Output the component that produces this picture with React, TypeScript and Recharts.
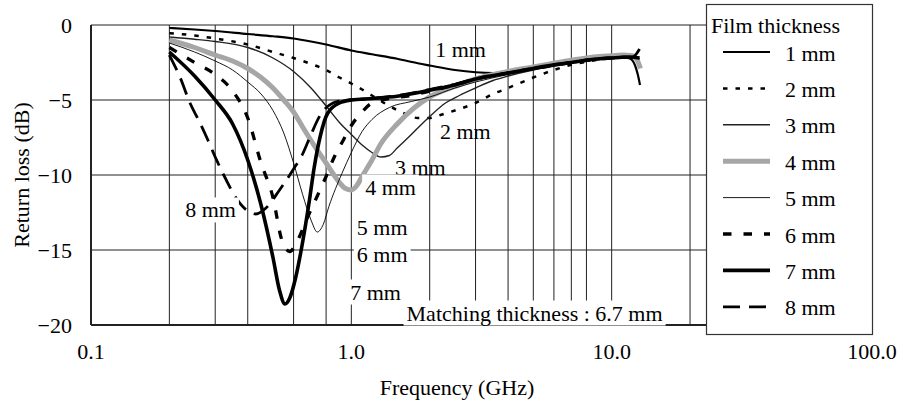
import React from 'react';
import { LineChart, Line, XAxis, YAxis, CartesianGrid, ReferenceDot } from 'recharts';

const FONT = '"Liberation Serif", "Times New Roman", serif';

const xTickValues = [0.1, 1, 10, 100];
const xTickLabels = ['0.1', '1.0', '10.0', '100.0'];
const yTickValues = [0, -5, -10, -15, -20];
const yTickLabels = ['0', '\u22125', '\u221210', '\u221215', '\u221220'];
const gridFreqs = [0.2, 0.3, 0.4, 0.5, 0.6, 0.7, 0.8, 0.9, 1, 2, 3, 4, 5, 6, 7, 8, 9, 10, 20];
const gridDb = [0, -5, -10, -15];

const seriesNames = ['1 mm', '2 mm', '3 mm', '4 mm', '5 mm', '6 mm', '7 mm', '8 mm'];

const f1 = [0.2, 0.25, 0.3, 0.4, 0.5, 0.6, 0.7, 0.8, 1.0, 1.2, 1.5, 1.8, 2.0, 2.5, 3.0, 3.5, 4, 5, 6, 7, 8, 9, 10, 11, 11.8, 12.3, 12.6, 12.85];
const d1 = [-0.2, -0.3, -0.4, -0.6, -0.75, -0.9, -1.1, -1.3, -1.7, -1.95, -2.25, -2.55, -2.7, -3.0, -3.15, -3.2, -3.1, -2.85, -2.6, -2.45, -2.3, -2.2, -2.15, -2.15, -2.25, -2.7, -3.3, -4.0];

const f2 = [0.2, 0.25, 0.3, 0.4, 0.5, 0.6, 0.7, 0.8, 0.9, 1.0, 1.1, 1.2, 1.4, 1.6, 1.8, 2.0, 2.2, 2.5, 3, 3.5, 4, 5, 6, 7, 8, 9, 10, 11, 12, 12.8];
const d2 = [-0.55, -0.7, -0.9, -1.3, -1.8, -2.2, -2.6, -3.0, -3.5, -3.9, -4.3, -4.7, -5.4, -5.9, -6.2, -6.2, -6.0, -5.7, -5.2, -4.6, -4.2, -3.5, -3.0, -2.65, -2.45, -2.3, -2.2, -2.15, -2.15, -2.2];

const f3 = [0.2, 0.25, 0.3, 0.4, 0.5, 0.6, 0.7, 0.8, 0.9, 1.0, 1.1, 1.2, 1.3, 1.4, 1.5, 1.7, 2.0, 2.3, 2.6, 3.0, 3.5, 4, 5, 6, 7, 8, 9, 10, 11, 12, 12.8];
const d3 = [-0.8, -0.95, -1.1, -1.5, -2.2, -3.1, -4.2, -5.4, -6.5, -7.3, -8.0, -8.5, -8.8, -8.7, -8.2, -7.3, -6.1, -5.2, -4.7, -4.2, -3.7, -3.4, -3.0, -2.75, -2.55, -2.4, -2.3, -2.2, -2.15, -2.15, -2.25];

const f4 = [0.2, 0.25, 0.3, 0.35, 0.4, 0.45, 0.5, 0.55, 0.6, 0.65, 0.7, 0.75, 0.8, 0.85, 0.9, 0.95, 1.0, 1.05, 1.1, 1.2, 1.3, 1.5, 1.75, 2.0, 2.5, 3.0, 4, 5, 6, 7, 8, 9, 10, 11, 12, 12.5, 12.9];
const d4 = [-1.0, -1.5, -2.0, -2.4, -2.9, -3.5, -4.2, -5.0, -5.8, -6.8, -7.7, -8.5, -9.2, -9.9, -10.5, -10.9, -11.0, -10.7, -10.1, -9.0, -7.9, -6.6, -5.5, -4.8, -4.1, -3.6, -3.1, -2.8, -2.55, -2.35, -2.2, -2.1, -2.05, -2.0, -2.05, -2.3, -2.9];

const f5 = [0.2, 0.25, 0.3, 0.35, 0.4, 0.45, 0.5, 0.55, 0.6, 0.65, 0.7, 0.74, 0.78, 0.82, 0.87, 0.92, 1.0, 1.1, 1.2, 1.4, 1.7, 2.0, 2.5, 3, 4, 5, 6, 7, 8, 9, 10, 11, 12, 12.8];
const d5 = [-1.2, -1.8, -2.4, -3.0, -3.8, -4.6, -5.7, -7.2, -9.2, -11.3, -13.0, -13.8, -13.3, -12.1, -10.9, -9.9, -8.5, -7.1, -6.3, -5.5, -5.1, -4.8, -4.2, -3.8, -3.3, -2.95, -2.7, -2.5, -2.35, -2.25, -2.2, -2.15, -2.15, -2.25];

const f6 = [0.2, 0.25, 0.3, 0.35, 0.4, 0.45, 0.5, 0.54, 0.58, 0.62, 0.68, 0.74, 0.8, 0.86, 0.93, 1.0, 1.1, 1.2, 1.4, 1.7, 2.0, 2.5, 3, 4, 5, 6, 7, 8, 9, 10, 11, 12, 12.8];
const d6 = [-1.5, -2.5, -3.3, -4.4, -6.2, -9.2, -11.5, -14.3, -15.1, -14.4, -12.8, -11.4, -10.1, -8.8, -7.7, -6.7, -5.8, -5.2, -4.9, -4.7, -4.4, -4.0, -3.6, -3.2, -2.9, -2.7, -2.5, -2.35, -2.25, -2.2, -2.15, -2.15, -2.2];

const f7 = [0.2, 0.25, 0.3, 0.35, 0.4, 0.45, 0.5, 0.53, 0.556, 0.58, 0.61, 0.645, 0.69, 0.72, 0.76, 0.81, 0.9, 1.0, 1.2, 1.5, 2.0, 2.5, 3, 4, 5, 6, 7, 8, 9, 10, 11, 12, 12.8];
const d7 = [-1.8, -3.4, -5.0, -6.6, -9.0, -12.0, -15.5, -17.7, -18.6, -18.2, -16.9, -14.8, -11.7, -9.5, -7.4, -5.9, -5.2, -5.0, -4.9, -4.75, -4.35, -4.0, -3.6, -3.2, -2.9, -2.65, -2.5, -2.35, -2.25, -2.2, -2.15, -2.15, -2.2];

const f8 = [0.2, 0.22, 0.24, 0.26, 0.28, 0.3, 0.33, 0.36, 0.4, 0.43, 0.47, 0.53, 0.6, 0.65, 0.7, 0.76, 0.85, 0.95, 1.1, 1.3, 1.5, 2.0, 2.5, 3, 4, 5, 6, 7, 8, 9, 10, 11, 12, 12.8];
const d8 = [-2.0, -3.5, -5.2, -6.4, -7.6, -8.8, -10.3, -11.5, -12.4, -12.6, -12.2, -11.0, -9.6, -8.6, -7.3, -6.0, -5.2, -5.0, -4.95, -4.85, -4.7, -4.3, -3.95, -3.6, -3.2, -2.9, -2.65, -2.5, -2.35, -2.25, -2.2, -2.15, -2.15, -1.6];

// annotation labels: text, left-anchor frequency, center dB, white background
const labelTexts = ['1 mm', '2 mm', '3 mm', '4 mm', '5 mm', '6 mm', '7 mm', '8 mm', 'Matching thickness : 6.7 mm'];
const labelFreqs = [2.1, 2.19, 1.47, 1.13, 1.05, 1.05, 0.99, 0.23, 1.63];
const labelDbs = [-1.6, -7.13, -9.47, -10.8, -13.5, -15.3, -17.8, -12.33, -19.2];
const labelBg = [false, false, false, true, true, true, true, true, true];

const styles = [
  { stroke: '#000', width: 2.2, dash: undefined },
  { stroke: '#000', width: 2.5, dash: '4.5 8' },
  { stroke: '#222', width: 1.4, dash: undefined },
  { stroke: '#a6a6a6', width: 5, dash: undefined },
  { stroke: '#000', width: 0.9, dash: undefined },
  { stroke: '#000', width: 3.3, dash: '8.5 12' },
  { stroke: '#000', width: 3.6, dash: undefined },
  { stroke: '#000', width: 2.8, dash: '17 9' },
];

const freqs = [f1, f2, f3, f4, f5, f6, f7, f8];
const dbs = [d1, d2, d3, d4, d5, d6, d7, d8];
const seriesData = freqs.map((fs, i) => fs.map((f, j) => ({ f, db: dbs[i][j] })));

const charW: Record<string, number> = {
  ' ': 0.25, m: 0.778, M: 0.889, a: 0.444, t: 0.278, c: 0.444, h: 0.5, i: 0.278, n: 0.5, g: 0.5,
  k: 0.5, e: 0.444, s: 0.389, ':': 0.278, '.': 0.25,
};
const FS = 22;
const textWidth = (s: string) => s.split('').reduce((a, ch) => a + (charW[ch] ?? 0.5), 0) * FS;

const LabelShape = (props: any, idx: number) => {
  const { cx, cy } = props;
  const text = labelTexts[idx];
  const w = textWidth(text);
  return (
    <g>
      {labelBg[idx] && <rect x={cx - 3} y={cy - 12.5} width={w + 6} height={25} fill="#fff" />}
      <text x={cx} y={cy} dominantBaseline="central" fontSize={FS} fontFamily={FONT} fill="#000">
        {text}
      </text>
    </g>
  );
};

export default function App() {
  return (
    <div style={{ position: 'absolute', left: 0, top: 0, width: 900, height: 405, background: '#fff', fontFamily: FONT }}>
      <LineChart width={900} height={405} margin={{ top: 25, right: 28, bottom: 30, left: 31 }}>
        <CartesianGrid
          horizontalValues={gridDb}
          verticalValues={gridFreqs}
          stroke="#222"
          strokeWidth={1}
        />
        <XAxis
          type="number"
          dataKey="f"
          scale="log"
          domain={[0.1, 100]}
          ticks={xTickValues}
          tickFormatter={(v: number) => xTickLabels[xTickValues.indexOf(v)] ?? String(v)}
          allowDataOverflow
          tickLine={false}
          tickSize={0}
          tickMargin={18}
          height={50}
          axisLine={{ stroke: '#222', strokeWidth: 2 }}
          tick={{ fill: '#000', fontSize: FS, fontFamily: FONT }}
        />
        <YAxis
          type="number"
          dataKey="db"
          domain={[-20, 0]}
          ticks={yTickValues}
          tickFormatter={(v: number) => yTickLabels[yTickValues.indexOf(v)] ?? String(v)}
          tickLine={false}
          tickSize={0}
          tickMargin={19}
          width={60}
          axisLine={{ stroke: '#222', strokeWidth: 2 }}
          tick={{ fill: '#000', fontSize: FS, fontFamily: FONT }}
        />
        {seriesData.map((d, i) => (
          <Line
            key={seriesNames[i]}
            data={d}
            dataKey="db"
            name={seriesNames[i]}
            type="monotone"
            stroke={styles[i].stroke}
            strokeWidth={styles[i].width}
            strokeDasharray={styles[i].dash}
            dot={false}
            activeDot={false}
            isAnimationActive={false}
          />
        ))}
        {labelTexts.map((t, i) => (
          <ReferenceDot
            key={t}
            x={labelFreqs[i]}
            y={labelDbs[i]}
            r={1}
            ifOverflow="visible"
            shape={(p: any) => LabelShape(p, i)}
          />
        ))}
      </LineChart>

      <div style={{ position: 'absolute', left: 457, top: 388, transform: 'translate(-50%, -50%)', fontSize: FS, whiteSpace: 'nowrap', color: '#000' }}>
        Frequency (GHz)
      </div>
      <div style={{ position: 'absolute', left: 22, top: 175, transform: 'translate(-50%, -50%) rotate(-90deg)', fontSize: FS, whiteSpace: 'nowrap', color: '#000' }}>
        Return loss (dB)
      </div>

      <svg width={900} height={405} style={{ position: 'absolute', left: 0, top: 0, pointerEvents: 'none' }}>
        <rect x={706.5} y={4.5} width={166} height={330} fill="#fff" stroke="#333" strokeWidth={1.2} />
        <text x={711} y={25} dominantBaseline="central" fontSize={FS} fontFamily={FONT} fill="#000">Film thickness</text>
        {seriesNames.map((n, i) => {
          const y = 52 + i * 36.4;
          return (
            <g key={n}>
              <line x1={723} x2={770} y1={y} y2={y} stroke={styles[i].stroke} strokeWidth={styles[i].width} strokeDasharray={styles[i].dash} />
              <text x={785} y={y + 1} dominantBaseline="central" fontSize={FS} fontFamily={FONT} fill="#000">{n}</text>
            </g>
          );
        })}
      </svg>
    </div>
  );
}
